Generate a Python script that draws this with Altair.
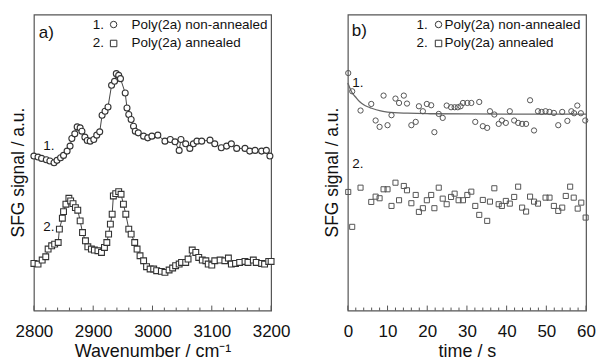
import altair as alt
import pandas as pd

FONT = "Liberation Sans"

# ---------------- panel a: SFG spectra ----------------
wn1 = [2800, 2807, 2813, 2821, 2827, 2834, 2839, 2845, 2850, 2856, 2861, 2864, 2869, 2873,
       2878, 2881, 2886, 2890, 2895, 2901, 2906, 2911, 2915, 2920, 2925, 2931, 2936, 2939,
       2943, 2946, 2954, 2957, 2960, 2964, 2968, 2971, 2976, 2985, 2992, 2999, 3009, 3021,
       3030, 3038, 3045, 3048, 3056, 3063, 3069, 3075, 3083, 3097, 3105, 3116, 3125, 3133,
       3142, 3156, 3164, 3173, 3184, 3192, 3198]
sig1 = [155, 154, 152.7, 151.3, 150, 148.3, 150.7, 153.3, 155.7, 160, 165, 172.7, 177.3, 184.3,
        183.3, 180, 174, 170.7, 170, 171.7, 176, 179.3, 196, 200, 204.3, 226, 230, 237.7,
        236, 232.7, 218.3, 203.3, 196.7, 191.7, 185, 180, 178.3, 175, 173.3, 175, 176, 170,
        171.7, 169.3, 160.7, 171.7, 167.3, 162.7, 167.3, 170, 170, 171, 167.3, 163.3, 165, 167.3,
        162.7, 162.7, 160, 160.7, 160, 160.7, 155]

wn2 = [2800, 2807, 2814, 2820, 2824, 2830, 2835, 2841, 2843, 2848, 2850, 2854, 2859, 2862,
       2866, 2870, 2874, 2878, 2882, 2887, 2891, 2897, 2902, 2908, 2914, 2919, 2923, 2926,
       2929, 2932, 2934, 2938, 2943, 2947, 2951, 2955, 2960, 2964, 2970, 2974, 2979, 2985,
       2990, 2996, 3002, 3007, 3015, 3021, 3028, 3034, 3039, 3045, 3049, 3056, 3060, 3067,
       3073, 3078, 3084, 3090, 3094, 3100, 3105, 3114, 3122, 3128, 3133, 3140, 3147, 3156,
       3161, 3170, 3175, 3184, 3189, 3196, 3200]
sig2 = [47.3, 46.7, 50.7, 54, 61.7, 65, 66.7, 68.3, 81.7, 92.7, 99.3, 106.7, 112.7, 110,
        107.3, 103.3, 100.7, 90, 78.3, 70, 64, 61.7, 60.7, 60, 58.3, 63.3, 68.3, 76.7,
        86.7, 96.7, 115, 117.3, 119.3, 116.7, 106.7, 96.7, 81.7, 76.7, 68.3, 61.7, 55, 50,
        44, 41.7, 41.7, 40, 39.3, 38.3, 40.7, 42.7, 45, 46.7, 48.3, 48.3, 51.7, 60.7,
        58.3, 53.3, 50.7, 50, 46.7, 45.7, 50, 50.7, 50, 52.7, 46.7, 47.3, 48.3, 49.3,
        48.3, 50.7, 48.3, 47.3, 46.7, 49.3, 49.3]

# ---------------- panel b: time traces ----------------
t1 = [0.1, 1.1, 3.2, 5.9, 7.0, 8.0, 9.0, 10.0, 11.0, 12.0, 12.9, 14.1, 14.9, 16.0, 17.1, 17.9,
      18.9, 19.9, 21.0, 21.8, 22.9, 23.9, 24.9, 26.0, 26.9, 27.7, 28.4, 29.0, 30.1, 31.1, 32.1,
      33.1, 34.0, 35.1, 35.8, 36.9, 38.0, 38.8, 39.8, 40.8, 41.9, 42.9, 43.9, 44.9, 45.9, 46.9,
      47.9, 48.8, 49.8, 50.8, 51.9, 53.0, 54.0, 55.3, 56.3, 57.0, 57.8, 58.7, 59.8]
s1 = [238.3, 220, 200.7, 207.3, 190.7, 184.3, 215.7, 186, 196, 212.7, 208.3, 215.7, 207.7, 186,
      189.3, 205, 200, 207.3, 206, 179, 197.3, 193.3, 205.7, 204, 204, 204, 205, 208.3, 208.3,
      208.3, 189.3, 209.3, 185, 183.3, 200, 196.7, 187.3, 190.7, 188.3, 200, 190.7, 188.3, 187.3,
      187.3, 211, 180.7, 200, 199.3, 200, 199.3, 198.3, 186, 199.3, 190.3, 200, 198, 205.7,
      198, 190.7]

t2 = [0.1, 1.1, 3.2, 5.9, 7.0, 8.0, 9.0, 10.0, 11.0, 12.0, 12.9, 14.1, 14.9, 16.0, 17.1, 17.9,
      18.9, 19.9, 21.0, 21.8, 22.9, 23.9, 24.9, 26.0, 26.9, 27.9, 29.0, 30.1, 31.1, 32.1, 33.1,
      34.0, 35.1, 35.8, 36.9, 38.0, 38.8, 39.8, 40.8, 41.9, 42.9, 43.9, 44.9, 45.9, 46.9, 47.9,
      49.8, 50.8, 51.9, 53.0, 54.0, 54.9, 56.0, 56.9, 57.9, 58.8, 59.9]
s2 = [119, 84, 123.3, 109, 114.3, 112.7, 121.7, 121.7, 105, 128.3, 110.7, 125, 120.7, 107.7,
      116, 99, 102.7, 110.7, 116, 102.7, 123.3, 112.3, 106.7, 114, 117.3, 110.7, 110.7, 116,
      119.3, 105, 96, 111, 90, 109.3, 122.7, 106.7, 105, 110, 107.3, 114, 124.3, 103.3, 99.3,
      114.3, 109.3, 107.3, 113.3, 113.3, 105, 100, 103.3, 115, 124.3, 113.3, 102.3, 108.3, 93.3]

# fitted decay curve, read at a few times
tf = [0, 1, 2, 3, 4, 5, 6, 8, 10, 15, 20, 30, 40, 50, 60]
sf = [228.3, 219, 214, 209.5, 206.5, 204.5, 203, 200.5, 199.2, 198, 197.5, 197.3, 197.2, 197.1, 197]

# tick positions
xa_major = [2800, 2900, 3000, 3100, 3200]
xa_minor = [2820, 2840, 2860, 2880, 2920, 2940, 2960, 2980, 3020, 3040, 3060, 3080,
            3120, 3140, 3160, 3180]
xb_major = [0, 10, 20, 30, 40, 50, 60]
xb_minor = [2, 4, 6, 8, 12, 14, 16, 18, 22, 24, 26, 28, 32, 34, 36, 38, 42, 44, 46, 48,
            52, 54, 56, 58]

W_A, W_B, H = 238, 239, 297
YDOM = [0, 297]
INK = "#111111"
MK = "#333333"
MK_B = "#555555"

df1 = pd.DataFrame({"x": wn1, "y": sig1})
df2 = pd.DataFrame({"x": wn2, "y": sig2})
dft1 = pd.DataFrame({"x": t1, "y": s1})
dft2 = pd.DataFrame({"x": t2, "y": s2})
dff = pd.DataFrame({"x": tf, "y": sf})


def xenc(domain, values, title):
    return alt.X("x:Q", scale=alt.Scale(domain=domain, nice=False, zero=False),
                 axis=alt.Axis(values=values, format="d", title=title, ticks=False, domain=False,
                               grid=False, labelFontSize=17, labelColor=INK, labelPadding=13,
                               labelFont=FONT, titleFont=FONT, titleFontSize=18,
                               titleFontWeight="normal", titleColor=INK, titlePadding=3,
                               labelFlush=False, labelOverlap=False))


yenc = alt.Y("y:Q", scale=alt.Scale(domain=YDOM, nice=False, zero=False),
             axis=alt.Axis(title="SFG signal / a.u.", labels=False, ticks=False, domain=False,
                           grid=False, titleFont=FONT, titleFontSize=17.5,
                           titleFontWeight="normal", titleColor=INK, titlePadding=6,
                           titleY=158))

one = pd.DataFrame({"k": [0]})


def txt(text, x, y, size=13.5, align="left"):
    return alt.Chart(one).mark_text(text=text, font=FONT, fontSize=size, color=INK,
                                    align=align, baseline="middle").encode(
        x=alt.value(x), y=alt.value(y))


def sym(shape, x, y):
    return alt.Chart(one).mark_point(shape=shape, size=42, fill="white", stroke=MK,
                                     strokeWidth=1, opacity=1, fillOpacity=1).encode(
        x=alt.value(x), y=alt.value(y))


def ticks(xe, major, minor):
    mj = alt.Chart(pd.DataFrame({"x": major})).mark_rule(color="#555", strokeWidth=1).encode(
        x=xe, y=alt.value(H), y2=alt.value(H - 5))
    mn = alt.Chart(pd.DataFrame({"x": minor})).mark_rule(color="#555", strokeWidth=1).encode(
        x=xe, y=alt.value(H), y2=alt.value(H - 3))
    return [mj, mn]


# ---- panel a ----
xa = xenc([2800, 3200], xa_major, "Wavenumber / cm⁻¹")
a_line1 = alt.Chart(df1).mark_line(color="#444", strokeWidth=1).encode(x=xa, y=yenc)
a_pts1 = alt.Chart(df1).mark_point(shape="circle", size=36, fill="white", stroke=MK,
                                   strokeWidth=1.1, opacity=1, fillOpacity=1).encode(x=xa, y=yenc)
a_line2 = alt.Chart(df2).mark_line(color="#444", strokeWidth=1).encode(x=xa, y=yenc)
a_pts2 = alt.Chart(df2).mark_point(shape="square", size=34, fill="white", stroke=MK,
                                   strokeWidth=1.1, opacity=1, fillOpacity=1).encode(x=xa, y=yenc)

panel_a = alt.layer(
    a_line1, a_pts1, a_line2, a_pts2, *ticks(xa, xa_major, xa_minor),
    txt("a)", 5, 19, size=17),
    txt("1.", 59, 10), sym("circle", 80, 10), txt("Poly(2a) non-annealed", 98, 10),
    txt("2.", 59, 29), sym("square", 80, 29), txt("Poly(2a) annealed", 98, 29),
    txt("1.", 15, 132, size=13.5, align="center"),
    txt("2.", 15, 213, size=13.5, align="center"),
).properties(width=W_A, height=H)

# ---- panel b ----
xb = xenc([0, 60], xb_major, "time / s")
b_fit = alt.Chart(dff).mark_line(color="#666", strokeWidth=1.3, interpolate="monotone").encode(
    x=xb, y=yenc)
b_pts1 = alt.Chart(dft1).mark_point(shape="circle", size=28, fill="white", stroke=MK_B,
                                    strokeWidth=1, opacity=1, fillOpacity=0).encode(x=xb, y=yenc)
b_pts2 = alt.Chart(dft2).mark_point(shape="square", size=26, fill="white", stroke=MK_B,
                                    strokeWidth=1, opacity=1, fillOpacity=0).encode(x=xb, y=yenc)

panel_b = alt.layer(
    b_fit, b_pts1, b_pts2, *ticks(xb, xb_major, xb_minor),
    txt("b)", 4, 17, size=17),
    txt("1.", 69, 10), sym("circle", 91, 10), txt("Poly(2a) non-annealed", 97, 10),
    txt("2.", 69, 29), sym("square", 91, 29), txt("Poly(2a) annealed", 97, 29),
    txt("1.", 10, 69, size=13.5, align="center"),
    txt("2.", 10, 150, size=13.5, align="center"),
).properties(width=W_B, height=H)

chart = alt.hconcat(panel_a, panel_b, spacing=77, bounds="flush").properties(
    padding={"left": 9, "top": 13, "right": 0, "bottom": 0},
    background="white",
).configure_view(stroke="#555", strokeWidth=1.2)

chart.save("out.html", embed_options={"renderer": "svg", "actions": False})
